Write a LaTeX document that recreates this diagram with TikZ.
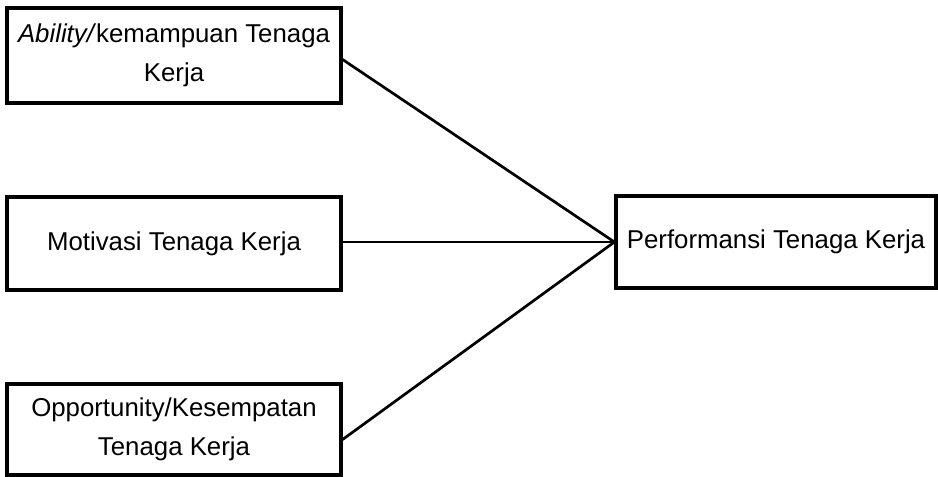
\documentclass[tikz,border=0pt]{standalone}
\usepackage{fontspec}
\setmainfont{Liberation Sans}
\begin{document}
\begin{tikzpicture}[x=1pt,y=-1pt,
  box/.style={draw=black, line width=3.2pt, rectangle, inner sep=0pt, align=center,
    font=\fontsize{25.8pt}{39pt}\selectfont},
  link/.style={draw=black, line width=2.7pt}]
\useasboundingbox[fill=white] (0,0) rectangle (938,477);
\node[box, minimum width=334pt, minimum height=95pt] (A) at (174,55.5) {\textit{Ability/}kemampuan Tenaga\\Kerja};
\node[box, minimum width=334pt, minimum height=93pt] (M) at (174,243.5) {Motivasi Tenaga Kerja};
\node[box, minimum width=334pt, minimum height=91pt] (O) at (174,429.5) {Opportunity/Kesempatan\\Tenaga Kerja};
\node[box, minimum width=320pt, minimum height=92pt] (P) at (776,242) {Performansi Tenaga Kerja};
\draw[link] ([yshift=-4pt]A.east) -- (P.west);
\draw[link] ([yshift=1.5pt]M.east) -- (P.west);
\draw[link] ([yshift=-10pt]O.east) -- (P.west);
\end{tikzpicture}
\end{document}
